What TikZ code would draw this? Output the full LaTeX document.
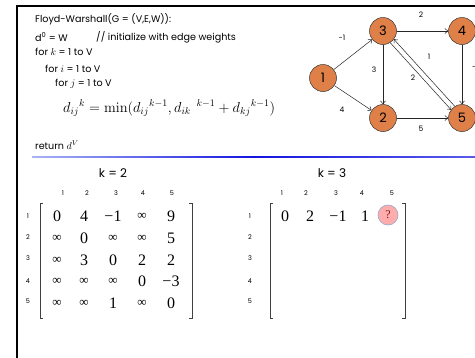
\documentclass[tikz,border=0pt]{standalone}
\usepackage[no-math]{fontspec}
\setmainfont{Poppins}
\newfontfamily\numfont{Liberation Serif}
\usetikzlibrary{arrows.meta,calc}
\definecolor{nodeor}{RGB}{222,128,72}
\definecolor{qfill}{RGB}{255,172,172}
\definecolor{qdraw}{RGB}{150,170,205}
\definecolor{qtext}{RGB}{120,30,30}
\definecolor{bline}{RGB}{20,20,225}
\definecolor{blight}{RGB}{170,180,245}
\tikzset{
  code/.style={anchor=west,inner sep=0pt,font=\fontsize{9.6}{10}\selectfont},
  vert/.style={circle,draw=black!80,line width=0.5pt,fill=nodeor,minimum size=27pt,inner sep=0pt,font=\fontsize{13}{14}\selectfont},
  edge/.style={draw=black!85,line width=0.5pt,-{Straight Barb[length=3pt,width=5pt]}},
  wlab/.style={inner sep=0pt,font=\fontsize{7.5}{8}\selectfont},
  ttl/.style={inner sep=0pt,font=\fontsize{12}{13}\selectfont},
  idx/.style={inner sep=0pt,font=\fontsize{6.5}{7}\selectfont},
  ent/.style={inner sep=0pt,font=\numfont\fontsize{16}{17}\selectfont},
  sent/.style={inner sep=0pt,font=\numfont\fontsize{13}{14}\selectfont},
  brk/.style={draw=black!75,line width=0.7pt}
}
\begin{document}
\begin{tikzpicture}[x=1pt,y=-1pt]
\useasboundingbox (0,0) rectangle (475,357);
\fill[white] (0,0) rectangle (475,357);
% frame
\draw[line width=2pt,line join=miter] (17,360) -- (17,6) -- (480,6);
% pseudocode
\node[code] (l1) at (35,19) {Floyd-Warshall(G = (V,E,W)):};
\node[code] (l2) at (35,37) {d\textsuperscript{0} = W};
\node[code] (l2b) at (96,37) {// initialize with edge weights};
\node[code] (l3) at (35,52) {for $k$ = 1 to V};
\node[code] (l4) at (45,69) {for $i$ = 1 to V};
\node[code] (l5) at (55,84) {for $j$ = 1 to V};
\node[code,font=\fontsize{13.8}{14}\selectfont] (l6) at (63,108) {$d_{ij}{}^{k} = \min(d_{ij}{}^{k-1}, d_{ik}{}^{\;\;k-1} + d_{kj}{}^{k-1})$};
\node[code] (l7) at (35,145) {return $d^V$};
\shade[left color=blight,right color=bline!70,middle color=bline] (32,156.2) rectangle (475,157.8);
% graph
\node[vert] (n1) at (323,78) {1};
\node[vert] (n3) at (383,31) {3};
\node[vert] (n4) at (462,31) {4};
\node[vert] (n2) at (383,118) {2};
\node[vert] (n5) at (462,118) {5};
\draw[edge] (n1) -- (n3);
\draw[edge] (n1) -- (n2);
\draw[edge] (n3) -- (n2);
\draw[edge] (n3) -- (n4);
\draw[edge] (n2) -- (n5);
\draw[edge] (n4) -- (n5);
\coordinate (a5) at ($(n5)!2.5pt!-90:(n3)$);
\coordinate (a3) at ($(n3)!2.5pt!90:(n5)$);
\coordinate (b5) at ($(n5)!2.5pt!90:(n3)$);
\coordinate (b3) at ($(n3)!2.5pt!-90:(n5)$);
\draw[edge,shorten <=13.3pt,shorten >=13.3pt] (a5) -- (a3);
\draw[edge,shorten <=13.3pt,shorten >=13.3pt] (b3) -- (b5);
\node[wlab] (w34) at (421,15) {2};
\node[wlab] (w13) at (342,38) {-1};
\node[wlab] (w32) at (374,70) {3};
\node[wlab] (w53) at (429,57) {1};
\node[wlab] (w35) at (413,78) {2};
\node[wlab] (w12) at (342,110) {4};
\node[wlab] (w25) at (421,129) {5};
\node[wlab] (w45) at (476.5,67) {-3};
% matrix k=2
\node[ttl] (t2) at (113,173) {k = 2};
\foreach \c/\x in {1/63,2/87,3/116,4/143,5/172}{\node[idx] (ca\c) at (\x,193) {\c};}
\foreach \r/\y in {1/216,2/237,3/258,4/281,5/301}{\node[idx] (ra\r) at (28,\y) {\r};}
\draw[brk] (43,203) -- (40,203) -- (40,318) -- (43,318);
\draw[brk] (189,203) -- (192,203) -- (192,318) -- (189,318);
\foreach \x/\v/\s in {57/0/ent,84/4/ent,113/−1/ent,142/∞/sent,171/9/ent}{\node[\s] at (\x,216) {\v};}
\foreach \x/\v/\s in {57/∞/sent,84/0/ent,113/∞/sent,142/∞/sent,171/5/ent}{\node[\s] at (\x,238) {\v};}
\foreach \x/\v/\s in {57/∞/sent,84/3/ent,113/0/ent,142/2/ent,171/2/ent}{\node[\s] at (\x,260) {\v};}
\foreach \x/\v/\s in {57/∞/sent,84/∞/sent,113/∞/sent,142/0/ent,171/−3/ent}{\node[\s] at (\x,281) {\v};}
\foreach \x/\v/\s in {57/∞/sent,84/∞/sent,113/1/ent,142/∞/sent,171/0/ent}{\node[\s] at (\x,303) {\v};}
% matrix k=3
\node[ttl] (t3) at (332,173) {k = 3};
\foreach \c/\x in {1/282,2/306,3/336,4/362,5/392}{\node[idx] (cb\c) at (\x,193) {\c};}
\foreach \r/\y in {1/216,2/237,3/258,4/281,5/301}{\node[idx] (rb\r) at (250,\y) {\r};}
\draw[brk] (273,203) -- (270,203) -- (270,318) -- (273,318);
\draw[brk] (402,203) -- (405,203) -- (405,318) -- (402,318);
\node[ent] (e1) at (285,216) {0};
\node[ent] (e2) at (310,216) {2};
\node[ent] (e3) at (338,216) {−1};
\node[ent] (e4) at (365,216) {1};
\node[circle,fill=qfill,draw=qdraw,line width=0.6pt,minimum size=20pt,inner sep=0pt,font=\numfont\fontsize{12}{13}\selectfont,text=qtext] (q) at (388,215) {?};
\end{tikzpicture}
\end{document}
